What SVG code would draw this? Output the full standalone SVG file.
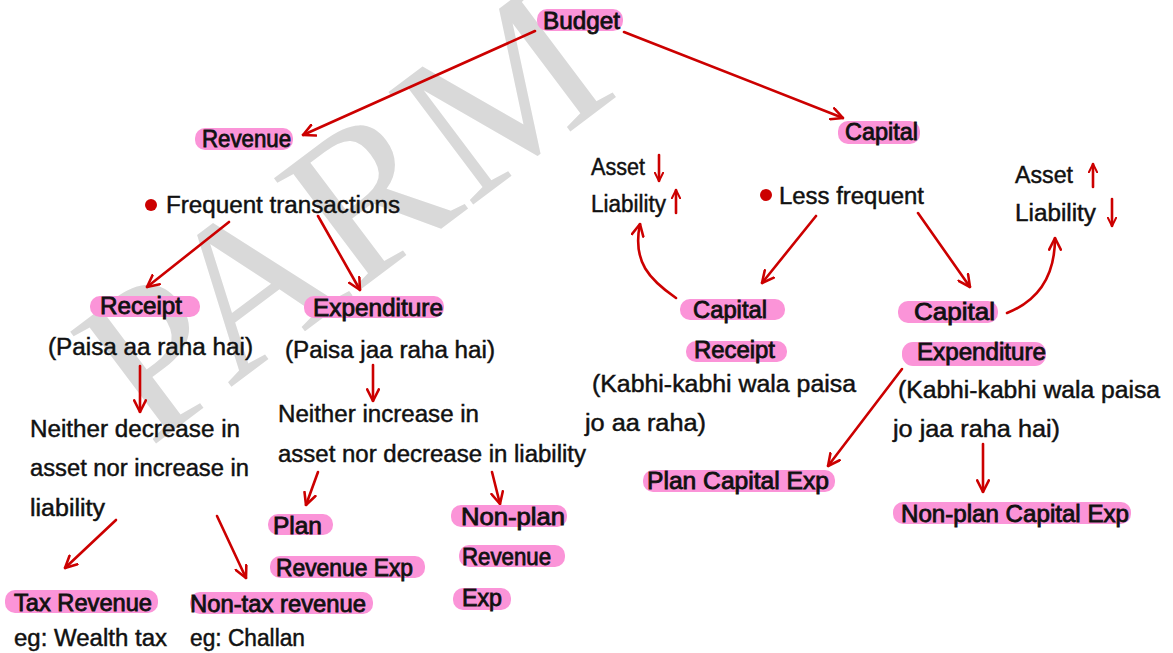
<svg xmlns="http://www.w3.org/2000/svg" width="1173" height="653" viewBox="0 0 1173 653">
<style>
text{font-family:"Liberation Sans","DejaVu Sans",sans-serif;font-size:23px;fill:#111;stroke:#111;stroke-width:0.45;}
.l text{stroke-width:0.8;}
.hl{fill:#fb94d8;}
#watermark text{font-family:"Liberation Serif",serif;font-size:215px;fill:#d9d9d9;stroke:none;}
.c{fill:none;stroke:#cc0000;stroke-width:2.6;stroke-linecap:round;}
.dot{fill:#cc0000;}
</style>
<defs>
<marker id="ah" viewBox="0 0 12 12" refX="11" refY="6" markerWidth="14" markerHeight="14" markerUnits="userSpaceOnUse" orient="auto">
<path d="M1,1 L11,6 L1,11" fill="none" stroke="#cc0000" stroke-width="2.2" stroke-linecap="round" stroke-linejoin="round"/>
</marker>
<marker id="ahs" viewBox="0 0 12 12" refX="11" refY="6" markerWidth="10" markerHeight="10" markerUnits="userSpaceOnUse" orient="auto">
<path d="M1,1 L11,6 L1,11" fill="none" stroke="#cc0000" stroke-width="2.4" stroke-linecap="round" stroke-linejoin="round"/>
</marker>
</defs>
<rect width="1173" height="653" fill="#fff"/>
<g id="watermark">
<text x="150" y="448" transform="rotate(-37 150 448)">PARM</text>
</g>
<g id="connectors">
<path class="c" d="M535,31 L303,135" marker-end="url(#ah)"/>
<path class="c" d="M624,32 L843,118" marker-end="url(#ah)"/>
<path class="c" d="M229,222 L147,287" marker-end="url(#ah)"/>
<path class="c" d="M318,216 L360,290" marker-end="url(#ah)"/>
<path class="c" d="M140,366 L140,412" marker-end="url(#ah)"/>
<path class="c" d="M373,365 L373,401" marker-end="url(#ah)"/>
<path class="c" d="M116,520 L65,568" marker-end="url(#ah)"/>
<path class="c" d="M217,516 L246,578" marker-end="url(#ah)"/>
<path class="c" d="M318,472 L306,505" marker-end="url(#ah)"/>
<path class="c" d="M492,472 L500,504" marker-end="url(#ah)"/>
<path class="c" d="M816,216 L762,283" marker-end="url(#ah)"/>
<path class="c" d="M918,213 L970,287" marker-end="url(#ah)"/>
<path class="c" d="M676,298 C650,280 632,262 640,224" marker-end="url(#ah)"/>
<path class="c" d="M1007,313 C1040,300 1055,275 1055,238" marker-end="url(#ah)"/>
<path class="c" d="M902,369 L828,466" marker-end="url(#ah)"/>
<path class="c" d="M983,444 L983,492" marker-end="url(#ah)"/>
<path class="c" d="M659,155 L659,181" marker-end="url(#ahs)"/>
<path class="c" d="M676,213 L676,190" marker-end="url(#ahs)"/>
<path class="c" d="M1093,187 L1093,164" marker-end="url(#ahs)"/>
<path class="c" d="M1112,199 L1112,226" marker-end="url(#ahs)"/>
</g>
<g id="budget" class="l"><rect class="hl" x="537" y="9" width="86" height="22" rx="10"/><text x="543" y="29" textLength="77" lengthAdjust="spacingAndGlyphs">Budget</text></g>
<g id="revenue" class="l"><rect class="hl" x="195" y="128" width="98" height="22" rx="10"/><text x="202" y="147" textLength="89" lengthAdjust="spacingAndGlyphs">Revenue</text></g>
<g id="capital" class="l"><rect class="hl" x="838" y="121" width="82" height="23" rx="10"/><text x="845" y="140" textLength="73" lengthAdjust="spacingAndGlyphs">Capital</text></g>
<g id="frequent"><circle class="dot" cx="151" cy="205" r="6"/><text x="166" y="213" textLength="234" lengthAdjust="spacingAndGlyphs">Frequent transactions</text></g>
<g id="receipt"><g class="l"><rect class="hl" x="90" y="296" width="110" height="21" rx="10"/><text x="100" y="314" textLength="82" lengthAdjust="spacingAndGlyphs">Receipt</text></g><text x="48" y="355" textLength="205" lengthAdjust="spacingAndGlyphs">(Paisa aa raha hai)</text></g>
<g id="expenditure"><g class="l"><rect class="hl" x="304" y="296" width="140" height="22" rx="10"/><text x="313" y="316" textLength="130" lengthAdjust="spacingAndGlyphs">Expenditure</text></g><text x="285" y="358" textLength="210" lengthAdjust="spacingAndGlyphs">(Paisa jaa raha hai)</text></g>
<g id="neither-dec"><text x="30" y="437" textLength="210" lengthAdjust="spacingAndGlyphs">Neither decrease in</text><text x="30" y="476" textLength="219" lengthAdjust="spacingAndGlyphs">asset nor increase in</text><text x="30" y="516" textLength="75" lengthAdjust="spacingAndGlyphs">liability</text></g>
<g id="neither-inc"><text x="278" y="422" textLength="201" lengthAdjust="spacingAndGlyphs">Neither increase in</text><text x="278" y="462" textLength="308" lengthAdjust="spacingAndGlyphs">asset nor decrease in liability</text></g>
<g id="plan-rev" class="l"><rect class="hl" x="268" y="514" width="65" height="21" rx="10"/><text x="273" y="534" textLength="49" lengthAdjust="spacingAndGlyphs">Plan</text><rect class="hl" x="270" y="556" width="155" height="22" rx="10"/><text x="276" y="576" textLength="137" lengthAdjust="spacingAndGlyphs">Revenue Exp</text></g>
<g id="nonplan-rev" class="l"><rect class="hl" x="451" y="505" width="116" height="22" rx="10"/><text x="461" y="525" textLength="104" lengthAdjust="spacingAndGlyphs">Non-plan</text><rect class="hl" x="459" y="545" width="106" height="22" rx="10"/><text x="462" y="565" textLength="89" lengthAdjust="spacingAndGlyphs">Revenue</text><rect class="hl" x="453" y="588" width="58" height="22" rx="10"/><text x="462" y="606" textLength="40" lengthAdjust="spacingAndGlyphs">Exp</text></g>
<g id="tax"><g class="l"><rect class="hl" x="5" y="590" width="153" height="23" rx="10"/><text x="14" y="611" textLength="138" lengthAdjust="spacingAndGlyphs">Tax Revenue</text></g><text x="14" y="646" textLength="153" lengthAdjust="spacingAndGlyphs">eg: Wealth tax</text></g>
<g id="nontax"><g class="l"><rect class="hl" x="190" y="592" width="183" height="22" rx="10"/><text x="190" y="612" textLength="176" lengthAdjust="spacingAndGlyphs">Non-tax revenue</text></g><text x="190" y="646" textLength="115" lengthAdjust="spacingAndGlyphs">eg: Challan</text></g>
<g id="asset-left"><text x="591" y="175" textLength="54" lengthAdjust="spacingAndGlyphs">Asset</text><text x="591" y="212" textLength="75" lengthAdjust="spacingAndGlyphs">Liability</text></g>
<g id="less-frequent"><circle class="dot" cx="766" cy="195" r="6"/><text x="779" y="204" textLength="145" lengthAdjust="spacingAndGlyphs">Less frequent</text></g>
<g id="asset-right"><text x="1015" y="183" textLength="58" lengthAdjust="spacingAndGlyphs">Asset</text><text x="1015" y="221" textLength="81" lengthAdjust="spacingAndGlyphs">Liability</text></g>
<g id="capital-receipt"><g class="l"><rect class="hl" x="680" y="299" width="105" height="21" rx="10"/><text x="693" y="318" textLength="74" lengthAdjust="spacingAndGlyphs">Capital</text><rect class="hl" x="686" y="341" width="101" height="21" rx="10"/><text x="694" y="358" textLength="81" lengthAdjust="spacingAndGlyphs">Receipt</text></g><text x="592" y="392" textLength="264" lengthAdjust="spacingAndGlyphs">(Kabhi-kabhi wala paisa</text><text x="585" y="431" textLength="121" lengthAdjust="spacingAndGlyphs">jo aa raha)</text></g>
<g id="capital-exp"><g class="l"><rect class="hl" x="898" y="301" width="100" height="22" rx="10"/><text x="914" y="320" textLength="81" lengthAdjust="spacingAndGlyphs">Capital</text><rect class="hl" x="902" y="342" width="144" height="24" rx="11"/><text x="917" y="360" textLength="129" lengthAdjust="spacingAndGlyphs">Expenditure</text></g><text x="898" y="398" textLength="262" lengthAdjust="spacingAndGlyphs">(Kabhi-kabhi wala paisa</text><text x="893" y="437" textLength="167" lengthAdjust="spacingAndGlyphs">jo jaa raha hai)</text></g>
<g id="plan-cap" class="l"><rect class="hl" x="643" y="470" width="192" height="22" rx="10"/><text x="647" y="489" textLength="182" lengthAdjust="spacingAndGlyphs">Plan Capital Exp</text></g>
<g id="nonplan-cap" class="l"><rect class="hl" x="893" y="502" width="238" height="22" rx="10"/><text x="901" y="522" textLength="228" lengthAdjust="spacingAndGlyphs">Non-plan Capital Exp</text></g>
</svg>
